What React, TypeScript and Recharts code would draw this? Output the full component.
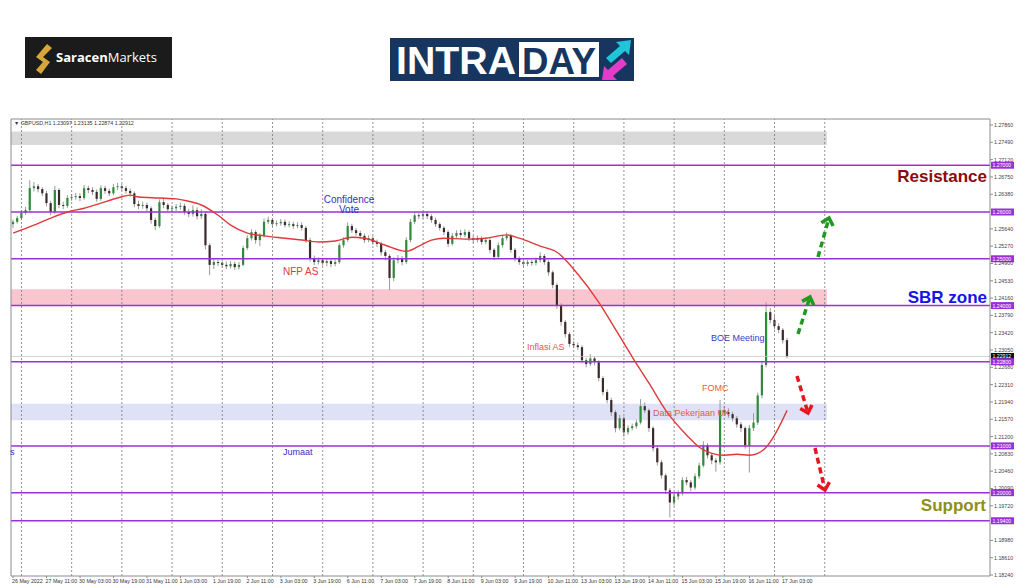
import React from "react";
import {
  Bar,
  ComposedChart,
  Line,
  ReferenceArea,
  ReferenceLine,
  XAxis,
  YAxis,
} from "recharts";

// GBPUSD H1, drawn as 2-hour candles
const firstOpen = 1.2574;
const closes = [
  1.2579, 1.2587, 1.2598, 1.2604, 1.2651, 1.2655, 1.2649, 1.264, 1.2619, 1.26,
  1.2647, 1.2615, 1.2613, 1.263, 1.2632, 1.2634, 1.263, 1.2651, 1.2647, 1.2643,
  1.2628, 1.2651, 1.2645, 1.264, 1.2653, 1.2655, 1.2651, 1.2645, 1.264, 1.2617,
  1.2613, 1.2615, 1.2608, 1.2583, 1.257, 1.2621, 1.2615, 1.2606, 1.2608, 1.2611,
  1.2613, 1.26, 1.2596, 1.2604, 1.2591, 1.2596, 1.2529, 1.2487, 1.2493, 1.2491,
  1.2487, 1.2484, 1.2489, 1.2482, 1.2487, 1.2523, 1.2544, 1.2557, 1.254, 1.2549,
  1.2579, 1.2583, 1.2574, 1.2576, 1.2579, 1.2572, 1.2574, 1.257, 1.2572, 1.2566,
  1.254, 1.2501, 1.2493, 1.2497, 1.2491, 1.2495, 1.2489, 1.2493, 1.2529, 1.254,
  1.257, 1.2561, 1.2555, 1.2549, 1.254, 1.2544, 1.2536, 1.2532, 1.2514, 1.2506,
  1.2459, 1.2497, 1.2501, 1.2493, 1.254, 1.2579, 1.2593, 1.2591, 1.2596, 1.2591,
  1.2583, 1.2574, 1.2566, 1.2557, 1.2532, 1.2549, 1.2555, 1.2551, 1.2557, 1.2544,
  1.254, 1.2544, 1.2536, 1.254, 1.2519, 1.2504, 1.2529, 1.2544, 1.2549, 1.2519,
  1.2501, 1.2493, 1.2489, 1.2493, 1.2491, 1.2497, 1.2506, 1.2493, 1.2471, 1.2444,
  1.2401, 1.2365, 1.2339, 1.2318, 1.2315, 1.2311, 1.2283, 1.2275, 1.2287, 1.2279,
  1.2245, 1.2215, 1.2198, 1.2172, 1.2138, 1.2159, 1.2129, 1.2138, 1.2142, 1.215,
  1.2185, 1.2176, 1.2138, 1.2095, 1.2065, 1.2037, 1.2005, 1.1979, 1.1992, 1.1999,
  1.2027, 1.2022, 1.2011, 1.2035, 1.2058, 1.2101, 1.208, 1.2069, 1.2065, 1.2176,
  1.2172, 1.2168, 1.2159, 1.2146, 1.2138, 1.2101, 1.2138, 1.215, 1.2208, 1.2273,
  1.2386, 1.2369, 1.2356, 1.2348, 1.2326, 1.2291,
];
const highs = [
  1.2584, 1.2592, 1.2603, 1.2611, 1.2668, 1.2664, 1.266, 1.2653, 1.2645, 1.2624,
  1.2656, 1.2651, 1.2622, 1.2636, 1.2638, 1.2641, 1.264, 1.2658, 1.2656, 1.2653,
  1.2648, 1.2657, 1.2656, 1.265, 1.266, 1.2662, 1.266, 1.2656, 1.265, 1.2644,
  1.2624, 1.2622, 1.262, 1.2612, 1.2588, 1.2627, 1.2628, 1.2619, 1.2614, 1.2617,
  1.262, 1.2618, 1.2607, 1.2614, 1.261, 1.2606, 1.26, 1.2533, 1.25, 1.2498,
  1.2497, 1.2494, 1.2495, 1.2494, 1.2493, 1.2528, 1.255, 1.2563, 1.2561, 1.2555,
  1.2586, 1.259, 1.2587, 1.2582, 1.2585, 1.2584, 1.258, 1.2579, 1.2578, 1.2578,
  1.257, 1.2545, 1.2507, 1.2503, 1.2502, 1.25, 1.2499, 1.2499, 1.2534, 1.2546,
  1.2578, 1.2575, 1.2566, 1.256, 1.2554, 1.255, 1.2548, 1.2541, 1.2536, 1.2519,
  1.251, 1.2503, 1.2508, 1.2506, 1.2546, 1.2585, 1.26, 1.2599, 1.2602, 1.26,
  1.2595, 1.2588, 1.2578, 1.257, 1.2561, 1.2555, 1.2561, 1.2562, 1.2563, 1.2561,
  1.2549, 1.255, 1.2548, 1.2546, 1.2544, 1.2523, 1.2535, 1.255, 1.2556, 1.2553,
  1.2523, 1.2505, 1.2497, 1.2498, 1.2497, 1.2503, 1.2514, 1.251, 1.2497, 1.2475,
  1.2448, 1.2405, 1.2369, 1.2343, 1.2324, 1.2321, 1.2315, 1.2288, 1.2296, 1.2292,
  1.2283, 1.2249, 1.2221, 1.2203, 1.2176, 1.2166, 1.2163, 1.2144, 1.2148, 1.2156,
  1.22, 1.2193, 1.218, 1.2142, 1.2099, 1.207, 1.2041, 1.201, 1.1999, 1.2005,
  1.2033, 1.2034, 1.2027, 1.2041, 1.2064, 1.211, 1.2106, 1.2085, 1.2074, 1.2198,
  1.2185, 1.218, 1.2173, 1.2164, 1.2151, 1.2142, 1.2145, 1.217, 1.2214, 1.228,
  1.2407, 1.2395, 1.2378, 1.2362, 1.2352, 1.2331,
];
const lows = [
  1.2566, 1.2575, 1.2583, 1.2594, 1.26, 1.2644, 1.2642, 1.2634, 1.2612, 1.2593,
  1.2596, 1.2608, 1.2606, 1.2609, 1.2624, 1.2626, 1.2623, 1.2626, 1.264, 1.2636,
  1.2622, 1.2624, 1.2639, 1.2634, 1.2636, 1.2647, 1.2645, 1.2639, 1.2633, 1.261,
  1.2606, 1.2607, 1.26, 1.2575, 1.2561, 1.2566, 1.2608, 1.2599, 1.26, 1.2602,
  1.2605, 1.2594, 1.2589, 1.259, 1.2584, 1.2585, 1.252, 1.2465, 1.2478, 1.2484,
  1.2481, 1.2478, 1.2479, 1.2476, 1.2477, 1.2484, 1.2519, 1.2539, 1.2532, 1.2527,
  1.2545, 1.2574, 1.2569, 1.2569, 1.2571, 1.2567, 1.2567, 1.2564, 1.2565, 1.256,
  1.2534, 1.2494, 1.2486, 1.2488, 1.2485, 1.2484, 1.2482, 1.2484, 1.2489, 1.2524,
  1.2536, 1.2555, 1.2549, 1.2543, 1.2534, 1.2535, 1.253, 1.2525, 1.2507, 1.2497,
  1.2433, 1.2452, 1.249, 1.2486, 1.2489, 1.2535, 1.2574, 1.2585, 1.2586, 1.2585,
  1.2577, 1.2568, 1.256, 1.255, 1.2525, 1.2528, 1.2544, 1.2545, 1.2546, 1.2538,
  1.2534, 1.2535, 1.253, 1.2531, 1.2512, 1.2497, 1.25, 1.2524, 1.2539, 1.2513,
  1.2495, 1.2487, 1.2483, 1.2484, 1.2485, 1.2486, 1.2492, 1.2487, 1.2464, 1.2437,
  1.2393, 1.2357, 1.2332, 1.2311, 1.2309, 1.2305, 1.2277, 1.2268, 1.2271, 1.2272,
  1.2238, 1.2208, 1.2191, 1.2164, 1.2129, 1.2133, 1.212, 1.2124, 1.2133, 1.2137,
  1.2146, 1.217, 1.213, 1.2088, 1.2058, 1.203, 1.1997, 1.1947, 1.1972, 1.1985,
  1.1994, 1.2016, 1.2003, 1.2006, 1.203, 1.2054, 1.2073, 1.2061, 1.2045, 1.206,
  1.2165, 1.216, 1.2152, 1.2139, 1.213, 1.2094, 1.2043, 1.2132, 1.2145, 1.2202,
  1.2268, 1.2362, 1.2349, 1.2341, 1.2319, 1.2287,
];

// red moving average, read at a few bars
const maSlots = [
  0, 5, 9, 13, 17, 21, 25, 28, 30, 35, 39, 42, 45, 49, 52, 56, 60, 65, 69, 73,
  77, 81, 84, 89, 94, 97, 100, 103, 108, 113, 118, 121, 126, 130, 135, 140, 144,
  148, 152, 156, 161, 164, 167, 170, 173, 176, 178, 180, 182, 185,
];
const maValues = [
  1.2555, 1.2572, 1.2587, 1.26, 1.2608, 1.2619, 1.263, 1.2636, 1.2632, 1.263,
  1.2628, 1.2623, 1.2615, 1.2593, 1.2572, 1.2555, 1.2549, 1.2544, 1.254, 1.2536,
  1.2538, 1.2546, 1.2544, 1.2529, 1.2516, 1.2527, 1.254, 1.2544, 1.2542, 1.2544,
  1.2551, 1.2544, 1.2527, 1.2514, 1.2467, 1.2407, 1.2349, 1.229, 1.2234, 1.2176,
  1.2123, 1.2097, 1.2084, 1.208, 1.2082, 1.208, 1.2084, 1.2097, 1.2123, 1.2176,
];

const xLabels = [
  "26 May 2022", "27 May 11:00", "30 May 03:00", "30 May 19:00", "31 May 11:00",
  "1 Jun 03:00", "1 Jun 19:00", "2 Jun 11:00", "3 Jun 03:00", "3 Jun 19:00",
  "6 Jun 11:00", "7 Jun 03:00", "7 Jun 19:00", "8 Jun 11:00", "9 Jun 03:00",
  "9 Jun 19:00", "10 Jun 11:00", "13 Jun 03:00", "13 Jun 19:00", "14 Jun 11:00",
  "15 Jun 03:00", "15 Jun 19:00", "16 Jun 11:00", "17 Jun 03:00",
];
const yTicks = [
  1.2786, 1.2749, 1.2712, 1.2675, 1.2638, 1.2601, 1.2564, 1.2527, 1.249, 1.2453,
  1.2416, 1.2379, 1.2342, 1.2305, 1.2268, 1.2231, 1.2194, 1.2157, 1.212, 1.2083,
  1.2046, 1.2009, 1.1972, 1.1935, 1.1898, 1.1861, 1.1824,
];
const levels = [1.27, 1.26, 1.25, 1.24, 1.228, 1.21, 1.2, 1.194];
const lastPrice = 1.22912;
const greyZone = [1.2743, 1.2772];
const pinkZone = [1.24, 1.2435];
const blueZone = [1.2155, 1.219];

const totalSlots = 234;
const purple = "#9b30d6";
const font = "'Liberation Sans', Arial, sans-serif";

const rows = Array.from({ length: totalSlots }, (_, i) => {
  const k = maSlots.indexOf(i);
  const has = i < closes.length;
  return {
    slot: i,
    open: has ? (i === 0 ? firstOpen : closes[i - 1]) : null,
    close: has ? closes[i] : null,
    high: has ? highs[i] : null,
    low: has ? lows[i] : null,
    ma: k >= 0 ? maValues[k] : null,
  };
});
const labelSlots = xLabels.map((_, i) => i * 8);
const daySlots = Array.from({ length: 17 }, (_, i) => 2 + i * 12);
// tick labels that sit under a price tag are hidden, as in the terminal
const shownTicks = yTicks.filter((t) => !levels.some((l) => Math.abs(l - t) < 0.0007));

const Candle = (props: any) => {
  const { x, y, width, height, payload } = props;
  if (!payload || payload.high == null) return null;
  const { open, close, high, low } = payload;
  const top = Math.min(y, y + height);
  const h = Math.abs(height);
  const span = high - low || 1e-9;
  const toY = (v: number) => top + ((high - v) / span) * h;
  const cx = x + width / 2;
  const up = close >= open;
  const b1 = toY(Math.max(open, close));
  const b2 = toY(Math.min(open, close));
  return (
    <g>
      <line x1={cx} x2={cx} y1={top} y2={top + h} stroke="#9a9a9a" strokeWidth={1} />
      <rect
        x={cx - 1.1}
        y={b1}
        width={2.2}
        height={Math.max(b2 - b1, 0.8)}
        fill={up ? "#2f8a3a" : "#3b2a2a"}
      />
    </g>
  );
};

const XTick = (props: any) => {
  const { x, y, payload } = props;
  const idx = labelSlots.indexOf(payload.value);
  return (
    <text x={x - 1} y={y + 5} fontSize={5.3} fill="#333" fontFamily={font}>
      {xLabels[idx]}
    </text>
  );
};

const YTick = (props: any) => {
  const { x, y, payload } = props;
  return (
    <text x={x + 1} y={y + 2} fontSize={5.3} fill="#444" fontFamily={font}>
      {Number(payload.value).toFixed(5)}
    </text>
  );
};

const PriceTag = (props: any) => {
  const { viewBox, text, bg } = props;
  if (!viewBox) return null;
  const left = viewBox.x + viewBox.width + 1;
  return (
    <g>
      <rect x={left} y={viewBox.y - 3.5} width={23} height={7} fill={bg} />
      <text x={left + 1.5} y={viewBox.y + 2} fontSize={5.2} fill="#fff" fontFamily={font}>
        {text}
      </text>
    </g>
  );
};

const DashArrow = ({ x1, y1, x2, y2, color }: any) => {
  const a = Math.atan2(y2 - y1, x2 - x1);
  const len = 9;
  const p1 = [x2 - len * Math.cos(a - 0.75), y2 - len * Math.sin(a - 0.75)];
  const p2 = [x2 - len * Math.cos(a + 0.75), y2 - len * Math.sin(a + 0.75)];
  return (
    <g stroke={color} strokeWidth={3.5} fill="none">
      <line x1={x1} y1={y1} x2={x2 - 3 * Math.cos(a)} y2={y2 - 3 * Math.sin(a)} strokeDasharray="6 4" />
      <polyline points={`${p1[0]},${p1[1]} ${x2},${y2} ${p2[0]},${p2[1]}`} strokeLinejoin="miter" />
    </g>
  );
};

const Overlay = () => (
  <svg
    width={1024}
    height={587}
    style={{ position: "absolute", left: 0, top: 0, pointerEvents: "none" }}
    fontFamily={font}
  >
    {/* SaracenMarkets logo */}
    <rect x={25} y={37} width={147} height={41} fill="#1b1b1b" />
    <path d="M47 44 L52 48 L43 57 L50 62 L41 74 L36 70 L43 62 L36 57 Z" fill="#d6a63a" />
    <text x={56} y={62} fontSize={13} fill="#fff" fontFamily="'Open Sans', sans-serif">
      <tspan fontWeight={700}>Saracen</tspan>
      <tspan>Markets</tspan>
    </text>

    {/* INTRADAY logo */}
    <rect x={390} y={38} width={244} height={43} fill="#17365f" />
    <text x={396} y={74} fontSize={39} fontWeight={700} fill="#fff" textLength={120} lengthAdjust="spacingAndGlyphs">
      INTRA
    </text>
    <rect x={519} y={42} width={80} height={35} fill="#fff" />
    <text x={522} y={74} fontSize={37} fontWeight={700} fill="#17365f" textLength={74} lengthAdjust="spacingAndGlyphs">
      DAY
    </text>
    <path d="M606 58 L620 46 L616 42 L631 40 L629 55 L625 51 L611 63 Z" fill="#22c4d8" />
    <path d="M627 64 L613 76 L617 80 L602 80 L604 66 L608 70 L622 58 Z" fill="#e43cc8" />

    {/* frame */}
    <line x1={11} y1={119} x2={990} y2={119} stroke="#8c8c8c" />
    <line x1={11} y1={119} x2={11} y2={576} stroke="#8c8c8c" />
    <text x={14} y={125} fontSize={5.3} fill="#333">
      ▼ GBPUSD,H1  1.23097 1.23135 1.22874 1.22912
    </text>

    {/* annotations */}
    <text x={987} y={182} fontSize={17} fontWeight={700} fill="#8b0a0a" textAnchor="end">
      Resistance
    </text>
    <text x={987} y={303} fontSize={17} fontWeight={700} fill="#1414e6" textAnchor="end">
      SBR zone
    </text>
    <text x={986} y={511} fontSize={17} fontWeight={700} fill="#8f8f14" textAnchor="end">
      Support
    </text>
    <text x={349} y={203} fontSize={10} fill="#3030c8" textAnchor="middle">Confidence</text>
    <text x={349} y={213} fontSize={10} fill="#3030c8" textAnchor="middle">Vote</text>
    <text x={283} y={275} fontSize={10} fill="#e03a3a">NFP AS</text>
    <text x={527} y={350} fontSize={9} fill="#e85050">Inflasi AS</text>
    <text x={711} y={341} fontSize={9} fill="#3a3ad0">BOE Meeting</text>
    <text x={702} y={391} fontSize={9} fill="#e8603a">FOMC</text>
    <text x={653} y={416} fontSize={9} fill="#e85a3a">Data Pekerjaan UK</text>
    <text x={283} y={455} fontSize={9} fill="#3030c8">Jumaat</text>
    <text x={10} y={455} fontSize={9} fill="#3030c8">s</text>

    <DashArrow x1={818} y1={257} x2={829} y2={218} color="#1f9a1f" />
    <DashArrow x1={798} y1={334} x2={810} y2={297} color="#1f9a1f" />
    <DashArrow x1={797} y1={376} x2={808} y2={413} color="#e8141e" />
    <DashArrow x1={815} y1={448} x2={825} y2={490} color="#e8141e" />
  </svg>
);

export default function App() {
  return (
    <div style={{ position: "absolute", left: 0, top: 0, width: 1024, height: 587, background: "#fff" }}>
      <ComposedChart
        width={1024}
        height={587}
        data={rows}
        margin={{ top: 119, right: 0, bottom: 0, left: 11 }}
        barCategoryGap={0}
      >
        <XAxis
          dataKey="slot"
          type="category"
          ticks={labelSlots}
          interval={0}
          height={11}
          tick={<XTick />}
          tickSize={2}
          tickMargin={0}
          stroke="#8c8c8c"
        />
        <YAxis
          orientation="right"
          width={34}
          domain={[1.18219, 1.27988]}
          ticks={shownTicks}
          interval={0}
          tick={<YTick />}
          tickSize={3}
          tickMargin={0}
          stroke="#8c8c8c"
          allowDataOverflow
        />
        <ReferenceArea y1={greyZone[0]} y2={greyZone[1]} x1={0} x2={194} fill="#d9d9d9" fillOpacity={1} stroke="none" />
        <ReferenceArea y1={pinkZone[0]} y2={pinkZone[1]} x1={0} x2={194} fill="#f9c6d0" fillOpacity={1} stroke="none" />
        <ReferenceArea y1={blueZone[0]} y2={blueZone[1]} x1={0} x2={194} fill="#dfe1f6" fillOpacity={1} stroke="none" />
        {daySlots.map((s) => (
          <ReferenceLine key={s} x={s} stroke="#777" strokeDasharray="2 2" strokeWidth={0.8} />
        ))}
        <ReferenceLine
          y={lastPrice}
          stroke="#c8c8c8"
          strokeWidth={0.8}
          label={<PriceTag text={lastPrice.toFixed(5)} bg="#111" />}
        />
        {levels.map((v) => (
          <ReferenceLine
            key={v}
            y={v}
            stroke={purple}
            strokeWidth={1.5}
            label={<PriceTag text={v.toFixed(5)} bg={purple} />}
          />
        ))}
        <Bar
          dataKey={(d: any) => (d.high == null ? null : [d.low, d.high])}
          shape={<Candle />}
          isAnimationActive={false}
        />
        <Line
          dataKey="ma"
          type="monotone"
          stroke="#e0393a"
          strokeWidth={1.4}
          dot={false}
          connectNulls
          isAnimationActive={false}
        />
      </ComposedChart>
      <Overlay />
    </div>
  );
}
